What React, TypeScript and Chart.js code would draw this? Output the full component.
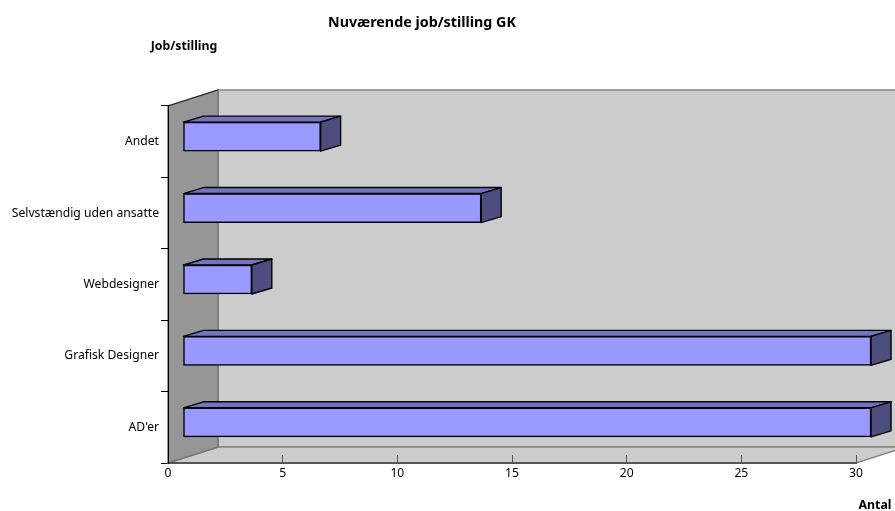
import React, { useEffect, useRef } from "react";
import { Chart, registerables } from "chart.js";

Chart.register(...registerables);

const categories = ["Andet", "Selvstændig uden ansatte", "Webdesigner", "Grafisk Designer", "AD'er"];
const counts = [6, 13, 3, 30, 30];
const chartTitle = "Nuværende job/stilling GK";
const yAxisTitle = "Job/stilling";
const xAxisTitle = "Antal";

const FONT = "'Noto Sans', sans-serif";
const WALL_DX = 50, WALL_DY = -16;
const BAR_SHIFT_X = 15, BAR_SHIFT_Y = -5;
const BAR_DX = 20, BAR_DY = -6;

const poly = (ctx: CanvasRenderingContext2D, pts: number[][], fill: string, stroke: string, lw = 1) => {
  ctx.beginPath();
  pts.forEach((p, i) => (i ? ctx.lineTo(p[0], p[1]) : ctx.moveTo(p[0], p[1])));
  ctx.closePath();
  ctx.fillStyle = fill;
  ctx.fill();
  ctx.strokeStyle = stroke;
  ctx.lineWidth = lw;
  ctx.lineJoin = "round";
  ctx.stroke();
};

const threeD = {
  id: "threeD",
  afterLayout(chart: any) {
    chart.titleBlock.left = 0;
    chart.titleBlock.right = 844;
  },
  beforeDraw(chart: any) {
    const { ctx, chartArea: a } = chart;
    const dx = WALL_DX, dy = WALL_DY;
    ctx.save();
    poly(ctx, [[a.left + dx, a.top + dy], [a.right + dx, a.top + dy], [a.right + dx, a.bottom + dy], [a.left + dx, a.bottom + dy]], "#cccccc", "#868686", 1.5);
    poly(ctx, [[a.left, a.bottom], [a.left + dx, a.bottom + dy], [a.right + dx, a.bottom + dy], [a.right, a.bottom]], "#cccccc", "#868686", 1.5);
    poly(ctx, [[a.left, a.top], [a.left + dx, a.top + dy], [a.left + dx, a.bottom + dy], [a.left, a.bottom]], "#969696", "#777777", 1.5);
    ctx.beginPath();
    ctx.moveTo(a.left, a.top);
    ctx.lineTo(a.left + dx, a.top + dy);
    ctx.strokeStyle = "#222222";
    ctx.lineWidth = 1;
    ctx.stroke();
    ctx.restore();
  },
  beforeDatasetsDraw(chart: any) {
    const { ctx } = chart;
    ctx.save();
    const meta = chart.getDatasetMeta(0);
    meta.data.forEach((bar: any) => {
      const p = bar.getProps(["x", "y", "base", "height"], true);
      const x0 = p.base + BAR_SHIFT_X, x1 = p.x + BAR_SHIFT_X;
      const y0 = p.y - p.height / 2 + BAR_SHIFT_Y, y1 = p.y + p.height / 2 + BAR_SHIFT_Y;
      poly(ctx, [[x0, y0], [x0 + BAR_DX, y0 + BAR_DY], [x1 + BAR_DX, y0 + BAR_DY], [x1, y0]], "#7373bf", "#000000", 1.4);
      poly(ctx, [[x1, y0], [x1 + BAR_DX, y0 + BAR_DY], [x1 + BAR_DX, y1 + BAR_DY], [x1, y1]], "#4d4d80", "#000000", 1.4);
    });
    ctx.restore();
  },
  beforeDatasetDraw(chart: any) {
    chart.ctx.save();
    chart.ctx.translate(BAR_SHIFT_X, BAR_SHIFT_Y);
  },
  afterDatasetDraw(chart: any) {
    chart.ctx.restore();
  },
  afterDraw(chart: any) {
    const { ctx } = chart;
    ctx.save();
    ctx.fillStyle = "#000000";
    ctx.font = `bold 12.3px ${FONT}`;
    ctx.textBaseline = "middle";
    ctx.textAlign = "center";
    ctx.fillText(yAxisTitle, 184, 46);
    ctx.fillText(xAxisTitle, 875, 505);
    ctx.restore();
  },
};

export default function App() {
  const ref = useRef<HTMLCanvasElement>(null);
  useEffect(() => {
    const chart = new Chart(ref.current!, {
      type: "bar",
      data: {
        labels: categories,
        datasets: [{
          data: counts,
          backgroundColor: "#9999ff",
          borderColor: "#000000",
          borderWidth: 1.5,
          borderSkipped: false,
          barThickness: 29,
          clip: 10,
        } as any],
      },
      plugins: [threeD],
      options: {
        indexAxis: "y",
        responsive: false,
        animation: false,
        layout: { padding: { left: 0, right: 39, top: 14, bottom: 0 } },
        plugins: {
          legend: { display: false },
          tooltip: { enabled: false },
          title: {
            display: true,
            text: chartTitle,
            color: "#000000",
            font: { family: FONT, size: 14.3, weight: "bold", lineHeight: 1.2 },
            padding: { top: 0, bottom: 74.8 },
          },
        },
        scales: {
          x: {
            min: 0,
            max: 30,
            afterFit: (s: any) => { s.height = 48; },
            border: { color: "#555555", width: 2 },
            grid: { drawOnChartArea: false, tickLength: -8, color: "#555555" },
            ticks: { stepSize: 5, maxRotation: 0, color: "#000000", padding: 11, font: { family: FONT, size: 12.15 } },
          },
          y: {
            afterFit: (s: any) => { s.width = 168; },
            border: { color: "#000000", width: 1 },
            grid: { drawOnChartArea: false, tickLength: 7, color: "#000000" },
            ticks: { color: "#000000", padding: 2, font: { family: FONT, size: 12.15 } },
          },
        },
      } as any,
    });
    return () => chart.destroy();
  }, []);
  return (
    <div style={{ position: "absolute", left: 0, top: 0, width: 895, height: 511, background: "#fff" }}>
      <canvas ref={ref} width={895} height={511} style={{ display: "block" }} />
    </div>
  );
}
